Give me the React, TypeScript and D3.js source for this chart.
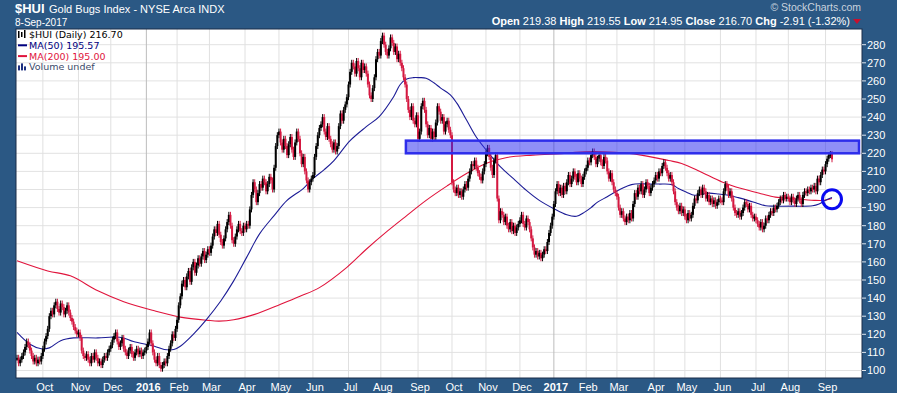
import React from 'react';
import * as d3 from 'd3';

const W = 897;
const H = 393;

// daily closes, one array per month (trading days)
const sep2015 = [107, 104, 106, 108, 110, 113, 116, 114, 111, 108, 105, 107, 104, 106, 105, 108];
const oct2015 = [112, 116, 119, 123, 130, 133, 131, 136, 138, 134, 132, 137, 135, 131, 133, 136, 132, 129, 127, 124, 122, 120];
const nov2015 = [121, 118, 111, 108, 107, 109, 106, 104, 108, 106, 110, 107, 104, 105, 103, 106, 108, 107, 110, 112];
const dec2015 = [114, 117, 119, 121, 116, 113, 115, 118, 112, 110, 108, 111, 113, 109, 107, 110, 112, 109, 111, 108, 110, 111];
const jan2016 = [113, 116, 121, 115, 110, 106, 104, 108, 103, 101, 103, 105, 104, 108, 112, 115, 120, 118, 123];
const feb2016 = [128, 136, 141, 148, 150, 146, 152, 155, 149, 157, 160, 154, 158, 162, 159, 163, 166, 161, 164, 167];
const mar2016 = [165, 169, 174, 178, 176, 181, 175, 171, 169, 173, 178, 182, 186, 180, 172, 170, 174, 178, 181, 177, 176, 180];
const apr2016 = [178, 181, 180, 189, 197, 204, 200, 193, 198, 203, 201, 206, 204, 199, 203, 207, 205, 200, 212, 224, 230];
const may2016 = [232, 226, 222, 228, 224, 219, 225, 229, 222, 218, 226, 232, 228, 220, 214, 218, 210, 205, 200, 204, 206];
const jun2016 = [208, 218, 224, 230, 234, 236, 240, 232, 229, 235, 228, 225, 222, 226, 221, 224, 235, 242, 238, 244, 247, 251];
const jul2016 = [258, 265, 270, 268, 264, 271, 267, 262, 270, 266, 268, 264, 258, 252, 250, 256, 262, 272, 276, 274];
const aug2016 = [282, 285, 280, 276, 274, 278, 284, 281, 276, 279, 272, 275, 270, 267, 262, 258, 250, 244, 240, 246, 238, 236, 241];
const sep2016 = [228, 232, 246, 249, 244, 236, 230, 234, 228, 232, 229, 237, 246, 243, 238, 240, 232, 236, 238, 233, 230];
const oct2016 = [204, 200, 198, 201, 197, 199, 196, 200, 203, 201, 206, 210, 214, 213, 216, 212, 209, 207, 205, 210, 214];
const nov2016 = [220, 223, 218, 212, 208, 216, 219, 195, 183, 188, 186, 182, 185, 180, 178, 182, 177, 180, 176, 179, 181];
const dec2016 = [183, 186, 181, 179, 184, 182, 178, 173, 168, 164, 166, 163, 165, 162, 164, 167, 166, 171, 176, 180, 185];
const jan2017 = [192, 199, 203, 198, 201, 197, 202, 199, 204, 208, 203, 206, 210, 207, 204, 209, 206, 203, 207, 210];
const feb2017 = [212, 216, 215, 219, 221, 218, 214, 217, 219, 215, 213, 218, 216, 210, 206, 209, 204, 200, 198];
const mar2017 = [196, 190, 186, 188, 184, 182, 185, 183, 187, 184, 192, 198, 196, 201, 199, 203, 197, 200, 204, 202, 198, 201, 203];
const apr2017 = [205, 208, 206, 210, 209, 213, 215, 212, 209, 206, 208, 204, 199, 193, 190, 188, 191, 187, 189];
const may2017 = [185, 183, 187, 184, 186, 191, 195, 194, 198, 200, 197, 201, 199, 195, 197, 193, 195, 192, 194, 191, 193, 195];
const jun2017 = [194, 193, 199, 203, 201, 197, 199, 195, 190, 187, 186, 188, 185, 187, 190, 193, 192, 189, 191, 186, 184, 185];
const jul2017 = [183, 181, 179, 182, 178, 180, 184, 183, 186, 188, 187, 190, 189, 191, 193, 195, 194, 197, 195, 196];
const aug2017 = [195, 193, 196, 194, 192, 195, 197, 194, 192, 197, 199, 198, 200, 199, 201, 200, 202, 199, 206, 204, 208, 211, 210];
const sep2017 = [214, 217, 219, 219.61, 216.7];

const months = [
  { label: '', closes: sep2015 },
  { label: 'Oct', closes: oct2015 },
  { label: 'Nov', closes: nov2015 },
  { label: 'Dec', closes: dec2015 },
  { label: '2016', closes: jan2016 },
  { label: 'Feb', closes: feb2016 },
  { label: 'Mar', closes: mar2016 },
  { label: 'Apr', closes: apr2016 },
  { label: 'May', closes: may2016 },
  { label: 'Jun', closes: jun2016 },
  { label: 'Jul', closes: jul2016 },
  { label: 'Aug', closes: aug2016 },
  { label: 'Sep', closes: sep2016 },
  { label: 'Oct', closes: oct2016 },
  { label: 'Nov', closes: nov2016 },
  { label: 'Dec', closes: dec2016 },
  { label: '2017', closes: jan2017 },
  { label: 'Feb', closes: feb2017 },
  { label: 'Mar', closes: mar2017 },
  { label: 'Apr', closes: apr2017 },
  { label: 'May', closes: may2017 },
  { label: 'Jun', closes: jun2017 },
  { label: 'Jul', closes: jul2017 },
  { label: 'Aug', closes: aug2017 },
  { label: 'Sep', closes: sep2017 },
];

// moving averages: [bar index, value]
const ma50: [number, number][] = [
  [0, 121], [8, 114.5], [15, 112], [20, 112.5], [27, 116.5], [35, 118], [50, 118], [60, 118.5], [66, 118],
  [72, 116], [85, 113.4], [91, 111.6], [97, 111.6], [101, 113.4], [109, 120], [117, 128], [126, 138.4],
  [134, 149.5], [142, 162.5], [150, 175.5], [159, 185.6], [167, 194], [177, 200.5], [183, 206], [190, 211],
  [196, 216], [206, 227], [216, 234.7], [224, 240.3], [233, 251.4], [237, 258], [241, 261], [245, 261.8],
  [249, 261.8], [253, 261.5], [258, 258.8], [262, 256], [268, 252.3], [272, 247.7], [278, 238.4], [284, 229],
  [290, 222], [299, 212.5], [307, 206], [315, 199.5], [323, 194], [332, 189.4], [340, 186], [346, 185.2],
  [351, 187.5], [355, 190], [359, 193], [365, 196], [370, 198.6], [375, 201], [380, 202.7], [385, 203.2],
  [390, 203], [397, 203], [405, 202.7], [409, 200.5], [414, 198.5], [419, 196.8], [424, 197.5], [428, 198],
  [434, 197.5], [440, 196.8], [446, 195.5], [452, 194], [458, 192.3], [463, 191], [468, 190.8], [480, 190.8],
  [492, 191], [496, 192], [500, 194], [504, 195.57],
];
const ma200: [number, number][] = [
  [0, 160.6], [19, 155], [33, 152.3], [50, 144], [66, 138], [85, 133], [101, 129.5], [118, 127.7], [125, 127.3],
  [134, 128], [147, 131], [163, 136.6], [175, 141], [187, 145.8], [204, 157], [216, 167], [229, 177],
  [241, 185.6], [253, 194], [266, 202], [278, 208.8], [290, 214.4], [303, 217.7], [319, 219], [340, 220],
  [345, 220.6], [370, 220.6], [386, 219], [403, 216], [411, 214.4], [423, 209.7], [436, 204.2], [448, 200.5],
  [460, 197.7], [469, 195.8], [479, 195], [493, 194], [499, 194], [504, 195],
];

const yTicks = [100, 110, 120, 130, 140, 150, 160, 170, 180, 190, 200, 210, 220, 230, 240, 250, 260, 270, 280];

// annotations drawn on the chart
const zone = { fromIdx: 240.5, low: 220, high: 227 };
const marker = { idx: 504, value: 194.6 };

const quote = [
  ['Open', '219.38'], ['High', '219.55'], ['Low', '214.95'], ['Close', '216.70'], ['Chg', '-2.91 (-1.32%)'],
];

const legendRows = [
  { text: '$HUI (Daily) 216.70', color: '#000', icon: 'bars' },
  { text: 'MA(50) 195.57', color: '#000080', icon: 'line' },
  { text: 'MA(200) 195.00', color: '#e0143c', icon: 'line' },
  { text: 'Volume undef', color: '#3a4a6a', icon: 'vol' },
];

const BG = '#2b5884';
const UP = '#000000';
const DOWN = '#d41840';
const NAVY = '#1c1c96';
const RED = '#e0143c';

export default function App() {
  const closes = months.flatMap(m => m.closes);
  const starts: { label: string; idx: number }[] = [];
  let acc = 0;
  months.forEach(m => {
    if (m.label) starts.push({ label: m.label, idx: acc });
    acc += m.closes.length;
  });

  const left = 16, right = 862, top = 29, bottom = 378;
  const x = d3.scaleLinear().domain([0, closes.length - 1]).range([17, 832]);
  const y = d3.scaleLinear().domain([100, 280]).range([370.5, 44.7]);

  const line = d3.line<[number, number]>()
    .x(d => x(d[0]))
    .y(d => y(d[1]))
    .curve(d3.curveCatmullRom);

  const font = 'Liberation Sans, Arial, sans-serif';
  const legendFont = 'DejaVu Sans, Verdana, sans-serif';

  return (
    <div>
      <style>{`body{margin:0}`}</style>
      <svg width={W} height={H} style={{ display: 'block' }}>
        <rect x={0} y={0} width={W} height={H} fill={BG} />
        <defs>
          <clipPath id="plot">
            <rect x={left} y={top} width={right - left} height={bottom - top} />
          </clipPath>
        </defs>
        <rect x={left} y={top} width={right - left} height={bottom - top} fill="#fff" />

        {/* header */}
        <text x={15} y={13} fill="#fff" fontFamily={font} fontSize={13} fontWeight="bold">$HUI</text>
        <text x={49} y={13} fill="#fff" fontFamily={font} fontSize={11}>Gold Bugs Index - NYSE Arca  INDX</text>
        <text x={15} y={26} fill="#fff" fontFamily={font} fontSize={10}>8-Sep-2017</text>
        <text x={861} y={11} fill="#c9d3de" fontFamily={font} fontSize={10.5} textAnchor="end">© StockCharts.com</text>
        <text x={850} y={25} fill="#fff" fontFamily={font} fontSize={11} textAnchor="end">
          {quote.map(([k, v], i) => (
            <React.Fragment key={k}>
              <tspan fontWeight="bold">{(i ? '  ' : '') + k}</tspan>
              <tspan>{' ' + v}</tspan>
            </React.Fragment>
          ))}
        </text>
        <path d="M853,19 L861,19 L857,24 Z" fill="#c8102e" />

        {/* grid */}
        {yTicks.map(t => (
          <line key={'h' + t} x1={left} x2={right} y1={y(t)} y2={y(t)} stroke="#e2e2e2" strokeWidth={1} />
        ))}
        {starts.map(s => (
          <line key={'v' + s.idx} x1={x(s.idx)} x2={x(s.idx)} y1={top} y2={bottom}
            stroke={/^\d/.test(s.label) ? '#bcbcbc' : '#e0e0e0'} strokeWidth={1} />
        ))}

        <g clipPath="url(#plot)">
          {/* MA lines */}
          <path d={line(ma200) || ''} fill="none" stroke={RED} strokeWidth={1.1} />
          <path d={line(ma50) || ''} fill="none" stroke={NAVY} strokeWidth={1.1} />

          {/* price bars */}
          {closes.map((c, i) => {
            const prev = i ? closes[i - 1] : c;
            const col = c >= prev ? UP : DOWN;
            const y1 = y(Math.max(c, prev));
            const y2 = y(Math.min(c, prev));
            const cx = x(i);
            return (
              <g key={i}>
                <line x1={cx} x2={cx} y1={y1 - 3} y2={y2 + 3} stroke={col} strokeWidth={1} />
                <rect x={cx - 1} y={y1} width={2} height={Math.max(2, y2 - y1)} fill={col} />
              </g>
            );
          })}

          {/* resistance zone */}
          <rect x={x(zone.fromIdx)} y={y(zone.high)} width={right - x(zone.fromIdx) - 3}
            height={y(zone.low) - y(zone.high)} fill="rgb(40,40,240)" fillOpacity={0.52}
            stroke="rgb(45,45,235)" strokeWidth={2.5} />
          <circle cx={x(marker.idx)} cy={y(marker.value)} r={9.5} fill="none" stroke="#0a0af0" strokeWidth={3} />
        </g>

        {/* legend */}
        <g fontFamily={legendFont} fontSize={9.5}>
          {legendRows.map((r, i) => {
            const by = 38 + i * 10.8;
            return (
              <g key={r.text}>
                {r.icon === 'line' && (
                  <line x1={18} x2={27} y1={by - 3.5} y2={by - 3.5} stroke={r.color} strokeWidth={2} />
                )}
                {r.icon === 'bars' && (
                  <g fill="#000">
                    <rect x={18} y={by - 7} width={1.5} height={7} />
                    <rect x={21} y={by - 6} width={1.5} height={5} />
                    <rect x={24} y={by - 8} width={1.5} height={8} />
                  </g>
                )}
                {r.icon === 'vol' && (
                  <g fill="#1c2f80">
                    <rect x={18} y={by - 5} width={2} height={5} />
                    <rect x={21} y={by - 7} width={2} height={7} />
                    <rect x={24} y={by - 4} width={2} height={4} />
                  </g>
                )}
                <text x={29} y={by} fill={r.color}>{r.text}</text>
              </g>
            );
          })}
        </g>

        {/* plot frame */}
        <rect x={left} y={top} width={right - left} height={bottom - top} fill="none" stroke="#1b2c48" strokeWidth={1} />

        {/* y axis */}
        {yTicks.map(t => (
          <g key={'yt' + t}>
            <line x1={right} x2={right + 4} y1={y(t)} y2={y(t)} stroke="#dfe6ee" />
            <text x={right + 5} y={y(t)} dy="0.35em" fill="#fff" fontFamily={font} fontSize={11}>{t}</text>
          </g>
        ))}

        {/* x axis */}
        {starts.map(s => (
          <text key={'xl' + s.idx} x={x(s.idx) + 2} y={391} fill="#fff" fontFamily={font} fontSize={11}
            textAnchor="middle" fontWeight={/^\d/.test(s.label) ? 'bold' : 'normal'}>{s.label}</text>
        ))}
      </svg>
    </div>
  );
}
